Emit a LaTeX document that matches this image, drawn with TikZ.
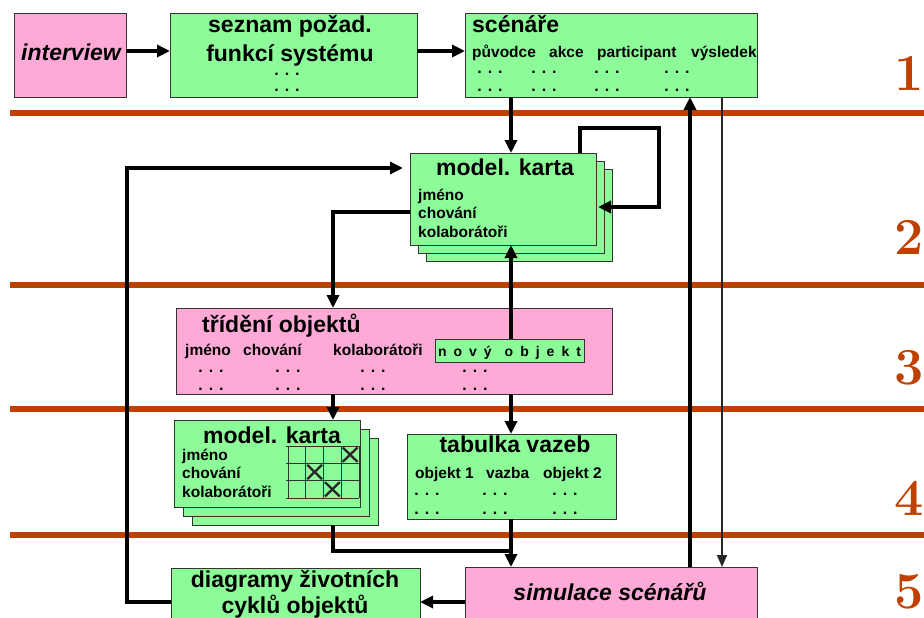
\documentclass[tikz,border=0pt]{standalone}
\usepackage{fontspec}
\newfontfamily\arial{Liberation Sans}
\usetikzlibrary{arrows.meta,calc}
\definecolor{boxgreen}{RGB}{140,252,153}
\definecolor{boxpink}{RGB}{255,170,214}
\definecolor{rust}{RGB}{192,64,0}
\tikzset{
  box/.style={draw=black!80, line width=0.9pt, anchor=north west, inner sep=0pt, outer sep=0pt},
  gbox/.style={box, fill=boxgreen},
  pbox/.style={box, fill=boxpink},
  ttl/.style={font=\arial\bfseries\fontsize{23}{26}\selectfont, inner sep=0pt},
  itl/.style={font=\arial\bfseries\itshape\fontsize{23}{26}\selectfont, inner sep=0pt},
  sml/.style={font=\arial\bfseries\fontsize{15.5}{18}\selectfont, inner sep=0pt},
  dts/.style={font=\arial\bfseries\fontsize{16}{18}\selectfont, inner sep=0pt, anchor=base,
              text height=3pt, text depth=0pt},
  flow/.style={line width=3.2pt, -{Triangle[length=13pt,width=12pt]}},
  plain/.style={line width=3.2pt},
  slim/.style={black!85, line width=1.8pt, -{Triangle[length=12pt,width=10pt]}},
  level/.style={rust, line width=6pt},
  stagenum/.style={rust, font=\bfseries\fontsize{52}{52}\selectfont, inner sep=0pt, anchor=base},
}
\begin{document}
\begin{tikzpicture}[x=1pt,y=-1pt]
\useasboundingbox[fill=white] (0,0) rectangle (924,618);

% level separators
\foreach \yy in {113,285,409,535}
  \draw[level] (10,\yy) -- (924,\yy);

% level numbers
\node[stagenum] (n1) at (909,91) {1};
\node[stagenum] (n2) at (909,254) {2};
\node[stagenum] (n3) at (909,384) {3};
\node[stagenum] (n4) at (909,515) {4};
\node[stagenum] (n5) at (909,608) {5};

% ---- level 1
\node[pbox, minimum width=112pt, minimum height=84pt] (iv) at (14,13) {};
\node[itl, anchor=base] (ivt) at (71,60) {interview};

\node[gbox, minimum width=247pt, minimum height=84pt] (sz) at (170,13) {};
\node[ttl, anchor=base] (sz1) at (290,33) {seznam požad.};
\node[ttl, anchor=base] (sz2) at (290,62) {funkcí systému};
\node[dts] (sz3) at (287,75) {. . .};
\node[dts] (sz4) at (287,92) {. . .};

\node[gbox, minimum width=292pt, minimum height=84pt] (sc) at (465,13) {};
\node[ttl, anchor=base west] (sct) at (472,33) {scénáře};
\node[sml, anchor=base west] (sca) at (472,58) {původce};
\node[sml, anchor=base west] (scb) at (549,58) {akce};
\node[sml, anchor=base west] (scc) at (597,58) {participant};
\node[sml, anchor=base west] (scd) at (691,58) {výsledek};
\foreach \xx/\nm in {490/a,544/b,607/c,677/d}{
  \node[dts] (scu\nm) at (\xx,74) {. . .};
  \node[dts] (scv\nm) at (\xx,92) {. . .};
}

% ---- level 2: stacked model card
\node[gbox, minimum width=186pt, minimum height=92pt] (k2c) at (426,169) {};
\node[gbox, minimum width=186pt, minimum height=92pt] (k2b) at (418,161) {};
\node[gbox, minimum width=186pt, minimum height=92pt] (k2) at (410,153) {};
\node[ttl, anchor=base] (k2t) at (505,175) {model. karta};
\node[sml, anchor=base west] (k2x) at (418,200) {jméno};
\node[sml, anchor=base west] (k2y) at (418,218) {chování};
\node[sml, anchor=base west] (k2z) at (418,237) {kolaborátoři};

% ---- level 3: object sorting
\node[pbox, minimum width=436pt, minimum height=86pt] (tr) at (176,308) {};
\node[ttl, anchor=base west] (trt) at (202,332) {třídění objektů};
\node[sml, anchor=base west] (tra) at (185,355) {jméno};
\node[sml, anchor=base west] (trb) at (243,355) {chování};
\node[sml, anchor=base west] (trc) at (333,355) {kolaborátoři};
\node[gbox, minimum width=149pt, minimum height=23pt] (novy) at (435,339) {};
\node[font=\arial\bfseries\fontsize{14}{16}\selectfont, inner sep=0pt, anchor=base] (novyt) at (509.5,356)
  {\spaceskip=7pt n o v ý\hspace{13pt}o b j e k t};
\foreach \xx/\nm in {211/a,288/b,373/c,475/d}{
  \node[dts] (tru\nm) at (\xx,372) {. . .};
  \node[dts] (trv\nm) at (\xx,390) {. . .};
}

% ---- level 4: model card with grid, link table
\node[gbox, minimum width=186pt, minimum height=87pt] (k4c) at (192,438) {};
\node[gbox, minimum width=186pt, minimum height=87pt] (k4b) at (183,429) {};
\node[gbox, minimum width=186pt, minimum height=87pt] (k4) at (174,420) {};
\node[ttl, anchor=base] (k4t) at (272,443) {model. karta};
\node[sml, anchor=base west] (k4x) at (182,460) {jméno};
\node[sml, anchor=base west] (k4y) at (182,478) {chování};
\node[sml, anchor=base west] (k4z) at (182,497) {kolaborátoři};
% responsibility grid
\foreach \i in {0,...,4}
  \draw[black!80, line width=0.8pt] (288+\i*17.75,446) -- (288+\i*17.75,498);
\foreach \j in {0,...,3}
  \draw[black!80, line width=0.8pt] (286,446+\j*17.33) -- (359,446+\j*17.33);
\foreach \ci/\rj in {3/0,1/1,2/2}
  \draw[black!85, line width=2.3pt]
    (288+\ci*17.75+1.5,446+\rj*17.33+1.5) -- (288+\ci*17.75+16.25,446+\rj*17.33+15.8)
    (288+\ci*17.75+16.25,446+\rj*17.33+1.5) -- (288+\ci*17.75+1.5,446+\rj*17.33+15.8);

\node[gbox, minimum width=209pt, minimum height=85pt] (tab) at (407,434) {};
\node[ttl, anchor=base] (tabt) at (515,452) {tabulka vazeb};
\node[sml, anchor=base west] (taba) at (415,478) {objekt 1};
\node[sml, anchor=base west] (tabb) at (486,478) {vazba};
\node[sml, anchor=base west] (tabc) at (543,478) {objekt 2};
\foreach \xx/\nm in {427/a,495/b,565/c}{
  \node[dts] (tabu\nm) at (\xx,495) {. . .};
  \node[dts] (tabv\nm) at (\xx,514) {. . .};
}

% ---- level 5
\node[gbox, minimum width=249pt, minimum height=60pt] (diag) at (171,568) {};
\node[ttl, anchor=base] (diag1) at (295,587) {diagramy životních};
\node[ttl, anchor=base] (diag2) at (295,613) {cyklů objektů};

\node[pbox, minimum width=292pt, minimum height=60pt] (sim) at (465,567) {};
\node[itl, anchor=base] (simt) at (610,600) {simulace scénářů};

% ---- routing columns and rows
\coordinate (cMid) at (511,0);
\coordinate (cLeft) at (333,0);
\coordinate (cBack) at (127,168);
\coordinate (cUp) at (690,0);
\coordinate (cDown) at (722,0);
\coordinate (loopA) at (580,128);
\coordinate (loopB) at (659,128);
\coordinate (loopC) at (659,207);
\coordinate (rTop) at (0,51);
\coordinate (rSort) at (0,212);
\coordinate (rJoin) at (0,551);
\coordinate (rBot) at (0,602);

% ---- connectors
\draw[flow] (iv.east |- rTop) -- (sz.west |- rTop);
\draw[flow] (sz.east |- rTop) -- (sc.west |- rTop);
\draw[flow] (sc.south -| cMid) -- (k2.north -| cMid);
\draw[flow] (k2.north -| loopA) -- (loopA) -- (loopB) -- (loopC) -- ([xshift=2pt]k2.east |- loopC);
\draw[flow, shorten >=7pt] (diag.west |- rBot) -| (cBack) -- (k2.west |- cBack);
\draw[flow] (k2.west |- rSort) -| (tr.north -| cLeft);
\draw[flow] (novy.north -| cMid) -- (k2.south -| cMid);
\draw[flow] (tr.south -| cLeft) -- (k4.north -| cLeft);
\draw[flow] (tr.south -| cMid) -- (tab.north -| cMid);
\draw[plain] (k4c.south -| cLeft) |- (cMid |- rJoin);
\draw[flow] (tab.south -| cMid) -- (sim.north -| cMid);
\draw[flow, line width=4pt] (sim.north -| cUp) -- (sc.south -| cUp);
\draw[slim] (sc.south -| cDown) -- (sim.north -| cDown);
\draw[flow] (sim.west |- rBot) -- (diag.east |- rBot);
\end{tikzpicture}
\end{document}
